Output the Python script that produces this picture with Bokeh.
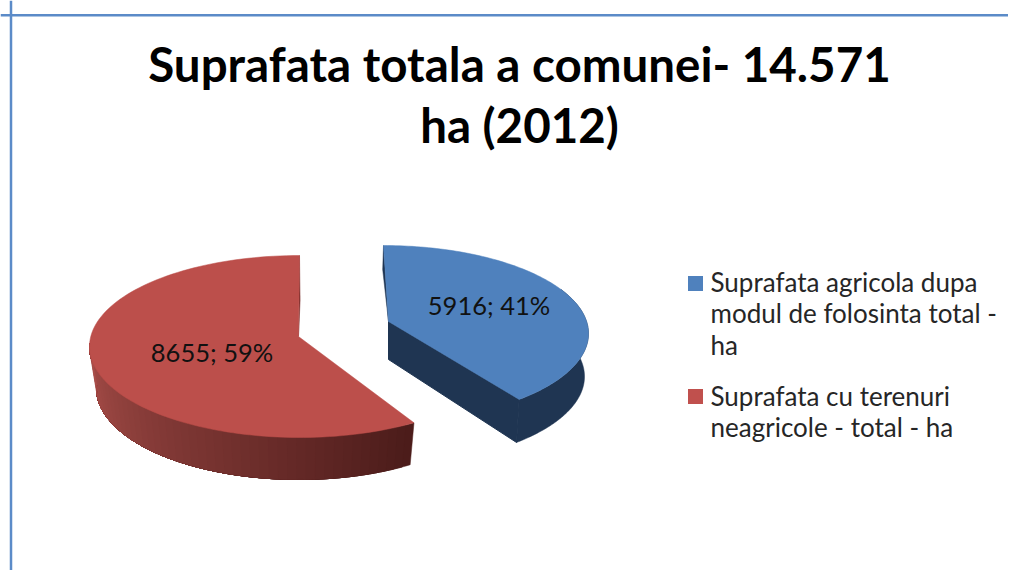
import math
from bokeh.plotting import figure
from bokeh.models import Range1d, Span
from bokeh.core.properties import value
from bokeh.embed import file_html
from bokeh.resources import INLINE

# ---- data ----
categories = ["Suprafata agricola dupa modul de folosinta total - ha",
              "Suprafata cu terenuri neagricole - total - ha"]
values = [5916, 8655]
title_lines = ["Suprafata totala a comunei- 14.571", "ha (2012)"]
legend_lines = [["Suprafata agricola dupa", "modul de folosinta total -", "ha"],
                ["Suprafata cu terenuri", "neagricole - total - ha"]]

# ---- style / layout ----
BLUE, BLUE_SIDE = "#4F81BD", "#1F3552"
RED = "#BC4F4B"
RED_L, RED_R = (168, 78, 74), (76, 28, 26)
FRAME = "#5B8BC8"
FONT = value("Lato")
W, H = 1008, 570
total = sum(values)
share = [v / total for v in values]
pct = [round(s * 100) for s in share]

p = figure(width=W, height=H, output_backend="svg", toolbar_location=None,
           x_range=Range1d(0, W), y_range=Range1d(H, 0),
           min_border=0, outline_line_color=None, background_fill_color="white",
           border_fill_color="white")
p.axis.visible = False
p.grid.visible = False


def pt(e, t):
    r = math.radians(t)
    return e[0] + e[2] * math.sin(r), e[1] - e[3] * math.cos(r)


def arc(e, t0, t1, n=120):
    return [pt(e, t0 + (t1 - t0) * i / n) for i in range(n + 1)]


def side_band(top, bot, t0, t1, colour):
    q = arc(top, t0, t1) + arc(bot, t1, t0)
    p.patch([v[0] for v in q], [v[1] for v in q], fill_color=colour, line_color=colour, line_width=0.5)


def face(apex, e, t0, t1, colour):
    a = [apex] + arc(e, t0, t1)
    p.patch([v[0] for v in a], [v[1] for v in a], fill_color=colour, line_color=colour, line_width=0.5)


# blue slice (ellipse: cx, cy, a, b)
b_top, b_bot, b_apex = (383, 333, 205, 88), (383, 376, 201, 88), (388, 321)
b_end = 360 * share[0] - 7.6
ab = b_apex[0], b_apex[1] + 38
side_band(b_top, b_bot, 60, b_end, BLUE_SIDE)
side = [b_apex, ab, pt(b_bot, b_end), pt(b_top, b_end)]
p.patch([v[0] for v in side], [v[1] for v in side], fill_color=BLUE_SIDE, line_color=BLUE_SIDE)
s0 = pt(b_top, 0)
sl = [s0, (s0[0] - 0.8, s0[1] + 24), b_apex]
p.patch([v[0] for v in sl], [v[1] for v in sl], fill_color=BLUE_SIDE, line_color=BLUE_SIDE, line_width=0.5)
face(b_apex, b_top, 0, b_end, BLUE)

# red slice
r_top, r_bot, r_apex = (299, 346, 210, 91), (299, 388, 203, 91), (298, 336)
r_start = 360 * share[0] + 0.8


def red_shade(f):
    return "#%02x%02x%02x" % tuple(int(RED_R[k] + (RED_L[k] - RED_R[k]) * f) for k in range(3))


STEPS = 48
for i in range(STEPS):
    t = r_start + (272 - r_start) * i / STEPS
    side_band(r_top, r_bot, t, 272, red_shade(i / (STEPS - 1)))
r0 = pt(r_top, 360)
sl = [r0, (r0[0] + 0.6, r0[1] + 45), r_apex]
p.patch([v[0] for v in sl], [v[1] for v in sl], fill_color="#7A2F2C", line_color="#7A2F2C", line_width=0.5)
face(r_apex, r_top, r_start, 360, RED)

# frame
p.add_layout(Span(location=14.8, dimension="width", line_color=FRAME, line_width=2.5))
p.add_layout(Span(location=10.5, dimension="height", line_color=FRAME, line_width=2.5))

# title
p.text([519, 519], [63, 124], text=title_lines, text_font=FONT, text_font_style="bold",
       text_font_size="47.5px", text_align="center", text_baseline="alphabetic", text_color="#000000")

# data labels
p.text([488.5, 211.5], [304, 351], text=[f"{v}; {q}%" for v, q in zip(values, pct)],
       text_font=FONT, text_font_size="25.5px", text_align="center", text_baseline="alphabetic",
       text_color="#111111")

# legend
p.scatter([695, 695], [283, 396], marker="square", size=15, fill_color=[BLUE, "#C0504D"], line_color=None)
ys = [[281, 312, 344], [395, 426]]
for lines, yy in zip(legend_lines, ys):
    p.text([710] * len(lines), yy, text=lines, text_font=FONT, text_font_size="26px",
           text_align="left", text_baseline="alphabetic", text_color="#262626")

open("out.html", "w").write(file_html(p, INLINE))
